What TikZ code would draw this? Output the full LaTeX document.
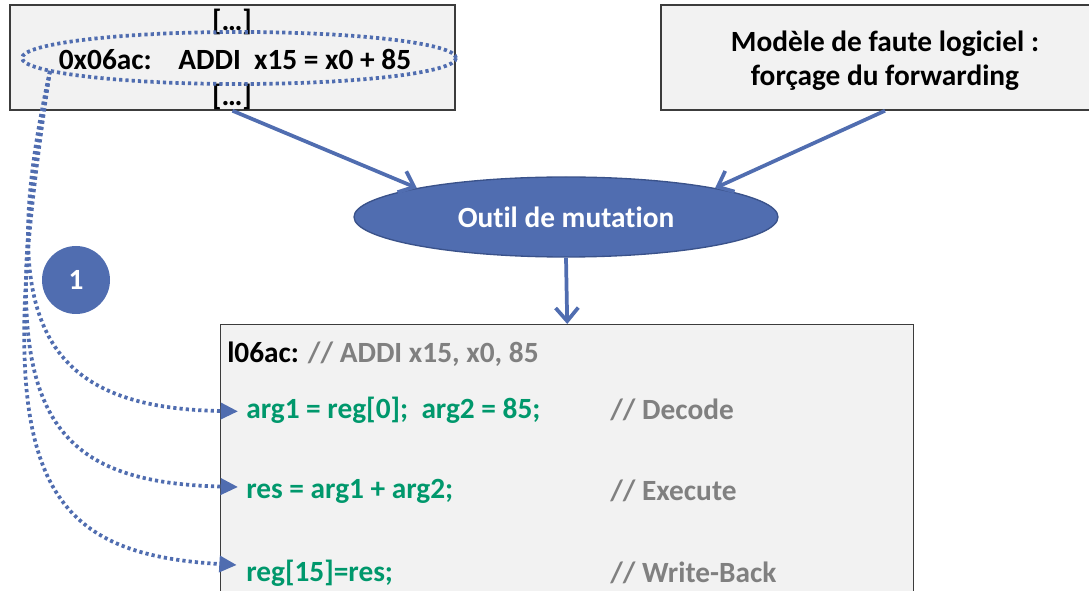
\documentclass[tikz,border=0pt]{standalone}
\usepackage{fontspec}
\setmainfont{Carlito}[Ligatures=NoCommon]
\usetikzlibrary{shapes.geometric,arrows.meta}
\definecolor{toolblue}{RGB}{80,109,176}
\definecolor{toolborder}{RGB}{58,82,138}
\definecolor{codegreen}{RGB}{0,152,108}
\definecolor{commgray}{RGB}{128,128,128}
\definecolor{boxgray}{RGB}{242,242,242}
\definecolor{boxline}{RGB}{60,60,60}
\tikzset{
  grbox/.style={draw=boxline, fill=boxgray, line width=1.1pt, inner sep=0pt},
  txt/.style={inner sep=0pt, font=\fontsize{22}{25.5}\selectfont\bfseries},
  flow/.style={draw=toolblue, line width=2.8pt, -{Straight Barb[length=10pt,width=17pt]}},
  ring/.style={draw=toolblue, line width=2.8pt, dash pattern=on 2.4pt off 2.3pt},
  link/.style={ring, -{Triangle[length=13pt,width=12pt]}},
}
\begin{document}
\begin{tikzpicture}[x=0.75pt,y=-0.75pt]
\useasboundingbox (0,0) rectangle (1089,591);
\clip (0,0) rectangle (1089,591);
\node[grbox, minimum width=333.75pt, minimum height=78.75pt] (src) at (232.5,57.5) {};
\node[txt] (dots1) at (232,22) {[…]};
\node[txt] (dots2) at (232,97) {[…]};
\node[txt] (instr) at (235,59) {0x06ac:~~~~ADDI~~x15 = x0 + 85};
\draw[ring] (239,58) ellipse [x radius=217, y radius=26];
\coordinate (tap) at (50,71);
\node[grbox, minimum width=336pt, minimum height=78.75pt] (fault) at (885,57.5) {};
\node[txt, align=center] (faultlbl) at (885,61) {Modèle de faute logiciel :\\forçage du forwarding};
\node[txt, ellipse, draw=toolborder, fill=toolblue, line width=1pt, text=white,
  minimum width=318pt, minimum height=60pt] (tool) at (566,217) {Outil de mutation};
\node[grbox, anchor=north west, minimum width=519.75pt, minimum height=222pt] (code) at (220,324) {};
\node[txt, circle, fill=toolblue, text=white, minimum size=51pt] (step1) at (76,280) {1};
\node[txt, anchor=west] (lbl) at (227,354) {l06ac: \textcolor{commgray}{// ADDI x15, x0, 85}};
\node[txt, anchor=west, text=codegreen] (dec) at (246,410) {arg1 = reg[0];~~arg2 = 85;};
\node[txt, anchor=west, text=codegreen] (exe) at (246,491) {res = arg1 + arg2;};
\node[txt, anchor=west, text=codegreen] (wb) at (246,573) {reg[15]=res;};
\node[txt, anchor=west, text=commgray] (cdec) at (610,410) {// Decode};
\node[txt, anchor=west, text=commgray] (cexe) at (610,491) {// Execute};
\node[txt, anchor=west, text=commgray] (cwb) at (610,573) {// Write-Back};
\draw[flow] (src.south) -- (tool.169);
\draw[flow] (fault.south) -- (tool.11);
\draw[flow] (tool.south) -- (code.north);
\draw[link] (tap) .. controls (-5,320) and (40,408) .. ([xshift=-6pt,yshift=-1pt]dec.west);
\draw[link] (tap) .. controls (-8,400) and (35,482) .. ([xshift=-6pt,yshift=3pt]exe.west);
\draw[link] (tap) .. controls (-10,465) and (30,553) .. ([xshift=-7pt,yshift=6pt]wb.west);
\end{tikzpicture}
\end{document}
